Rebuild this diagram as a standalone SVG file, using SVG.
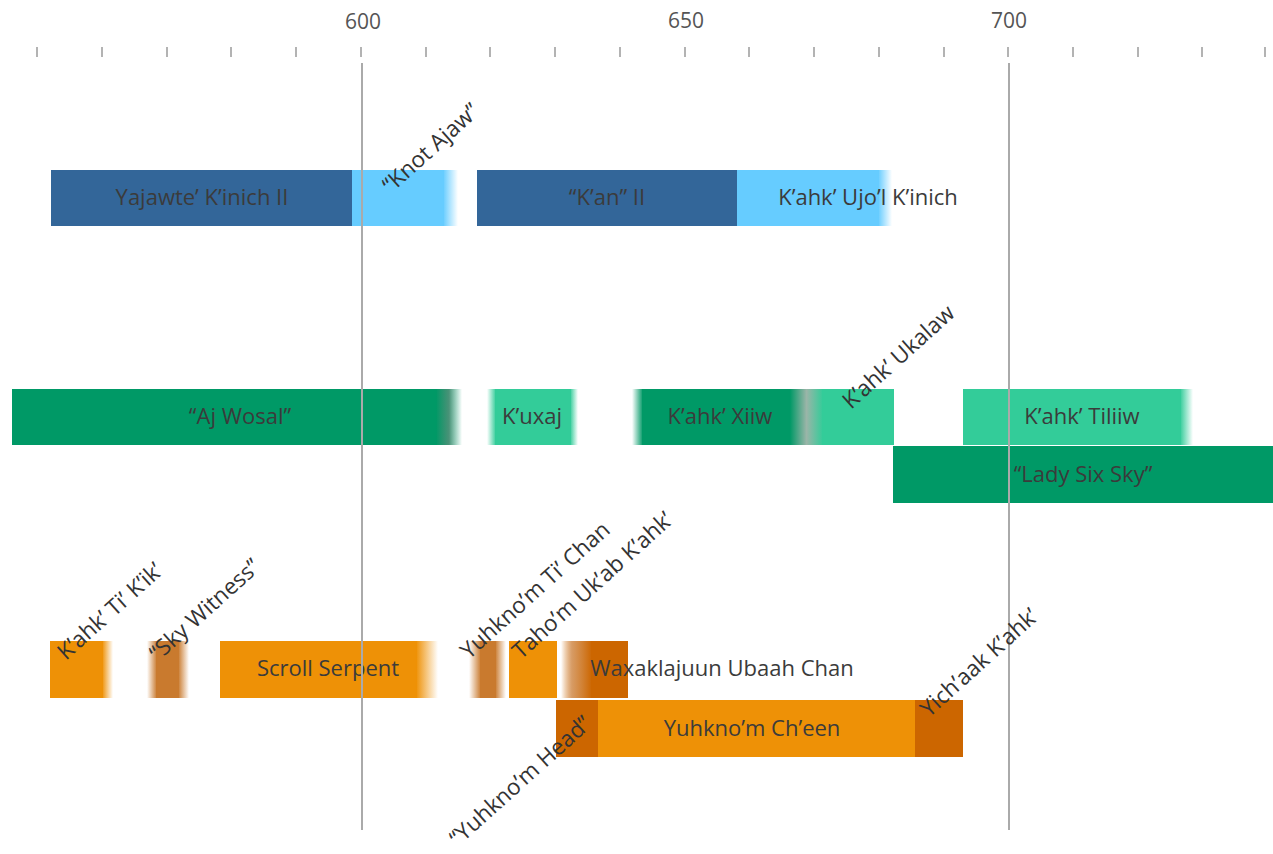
<svg xmlns="http://www.w3.org/2000/svg" width="1273" height="854" viewBox="0 0 1273 854">
<style>
.lbl{font-family:"Open Sans","Noto Sans","Liberation Sans",sans-serif;font-size:22px;fill:#3b3b3b}
.rot{font-size:22.5px;fill:#333}
.c{text-anchor:middle}
.ax{font-family:"Open Sans","Noto Sans","Liberation Sans",sans-serif;font-size:21px;fill:#555;text-anchor:middle}
.tick{stroke:#a0a0a0;stroke-width:1.6}
.vline{stroke:#aaaaaa;stroke-width:2}
.db{fill:#336699}.lb{fill:#66ccff}.dg{fill:#009966}.lg{fill:#33cc99}
.or{fill:#ee9106}.br{fill:#c97a2e}.do{fill:#cc6600}
</style>
<defs>
<linearGradient id="lbR"><stop offset="0" stop-color="#66ccff"/><stop offset="1" stop-color="#66ccff" stop-opacity="0"/></linearGradient>
<linearGradient id="dgR"><stop offset="0" stop-color="#009966"/><stop offset="0.5" stop-color="#2a7f60" stop-opacity="0.85"/><stop offset="1" stop-color="#009966" stop-opacity="0"/></linearGradient>
<linearGradient id="dgL"><stop offset="0" stop-color="#009966" stop-opacity="0"/><stop offset="1" stop-color="#009966"/></linearGradient>
<linearGradient id="lgR"><stop offset="0" stop-color="#33cc99"/><stop offset="1" stop-color="#33cc99" stop-opacity="0"/></linearGradient>
<linearGradient id="lgL"><stop offset="0" stop-color="#33cc99" stop-opacity="0"/><stop offset="1" stop-color="#33cc99"/></linearGradient>
<linearGradient id="dg2lg"><stop offset="0" stop-color="#009966"/><stop offset="0.5" stop-color="#9ab5a8"/><stop offset="1" stop-color="#33cc99"/></linearGradient>
<linearGradient id="orR"><stop offset="0" stop-color="#ee9106"/><stop offset="1" stop-color="#ee9106" stop-opacity="0"/></linearGradient>
<linearGradient id="brR"><stop offset="0" stop-color="#c97a2e"/><stop offset="1" stop-color="#c97a2e" stop-opacity="0"/></linearGradient>
<linearGradient id="brL"><stop offset="0" stop-color="#c97a2e" stop-opacity="0"/><stop offset="1" stop-color="#c97a2e"/></linearGradient>
<linearGradient id="doL"><stop offset="0" stop-color="#cc6600" stop-opacity="0"/><stop offset="0.35" stop-color="#d08a4a" stop-opacity="0.85"/><stop offset="1" stop-color="#cc6600"/></linearGradient>
</defs>
<rect width="1273" height="854" fill="#ffffff"/>

<g id="axis">
<text class="ax" x="363" y="29">600</text>
<text class="ax" x="686" y="28">650</text>
<text class="ax" x="1009" y="28">700</text>
<g class="tick">
<line x1="37" y1="47" x2="37" y2="57"/><line x1="102" y1="47" x2="102" y2="57"/><line x1="167" y1="47" x2="167" y2="57"/><line x1="231" y1="47" x2="231" y2="57"/><line x1="296" y1="47" x2="296" y2="57"/><line x1="361" y1="47" x2="361" y2="57"/><line x1="426" y1="47" x2="426" y2="57"/><line x1="490" y1="47" x2="490" y2="57"/><line x1="555" y1="47" x2="555" y2="57"/><line x1="620" y1="47" x2="620" y2="57"/><line x1="685" y1="47" x2="685" y2="57"/><line x1="749" y1="47" x2="749" y2="57"/><line x1="814" y1="47" x2="814" y2="57"/><line x1="879" y1="47" x2="879" y2="57"/><line x1="944" y1="47" x2="944" y2="57"/><line x1="1008" y1="47" x2="1008" y2="57"/><line x1="1073" y1="47" x2="1073" y2="57"/><line x1="1138" y1="47" x2="1138" y2="57"/><line x1="1202" y1="47" x2="1202" y2="57"/><line x1="1265" y1="47" x2="1265" y2="57"/>
</g>
</g>

<g id="yajawte">
<rect class="db" x="51" y="170" width="302" height="56"/>
<text class="lbl c" x="202" y="205">Yajawte’ K’inich II</text>
</g>
<g id="knot-ajaw">
<rect class="lb" x="352" y="170" width="92" height="56"/>
<rect x="443" y="170" width="15" height="56" fill="url(#lbR)"/>
</g>
<g id="kan">
<rect class="db" x="477" y="170" width="261" height="56"/>
<text class="lbl c" x="607" y="205">“K’an” II</text>
</g>
<g id="ujol">
<rect class="lb" x="737" y="170" width="142" height="56"/>
<rect x="878" y="170" width="14" height="56" fill="url(#lbR)"/>
<text class="lbl c" x="868" y="205">K’ahk’ Ujo’l K’inich</text>
</g>

<g id="aj-wosal">
<rect class="dg" x="12" y="389" width="425" height="56"/>
<rect x="436" y="389" width="26" height="56" fill="url(#dgR)"/>
<text class="lbl c" x="240" y="424">“Aj Wosal”</text>
</g>
<g id="kuxaj">
<rect x="487" y="389" width="9" height="56" fill="url(#lgL)"/>
<rect class="lg" x="495" y="389" width="76" height="56"/>
<rect x="570" y="389" width="8" height="56" fill="url(#lgR)"/>
<text class="lbl c" x="532" y="424">K’uxaj</text>
</g>
<g id="kahk-xiiw">
<rect x="632" y="389" width="11" height="56" fill="url(#dgL)"/>
<rect class="dg" x="642" y="389" width="149" height="56"/>
<rect x="790" y="389" width="33" height="56" fill="url(#dg2lg)"/>
<text class="lbl c" x="720" y="424">K’ahk’ Xiiw</text>
</g>
<g id="kahk-ukalaw">
<rect class="lg" x="822" y="389" width="72" height="56"/>
</g>
<g id="tiliiw">
<rect class="lg" x="963" y="389" width="218" height="56"/>
<rect x="1180" y="389" width="13" height="56" fill="url(#lgR)"/>
<text class="lbl c" x="1082" y="424">K’ahk’ Tiliiw</text>
</g>
<g id="lady-six-sky">
<rect class="dg" x="893" y="446" width="380" height="57"/>
<text class="lbl c" x="1083" y="482">“Lady Six Sky”</text>
</g>

<g id="ti-kik">
<rect class="or" x="50" y="641" width="53" height="57"/>
<rect x="102" y="641" width="11" height="57" fill="url(#orR)"/>
</g>
<g id="sky-witness">
<rect x="147" y="641" width="10" height="57" fill="url(#brL)"/>
<rect class="br" x="156" y="641" width="23" height="57"/>
<rect x="178" y="641" width="11" height="57" fill="url(#brR)"/>
</g>
<g id="scroll-serpent">
<rect class="or" x="220" y="641" width="197" height="57"/>
<rect x="416" y="641" width="22" height="57" fill="url(#orR)"/>
<text class="lbl c" x="328" y="676">Scroll Serpent</text>
</g>
<g id="ti-chan">
<rect x="469" y="641" width="12" height="57" fill="url(#brL)"/>
<rect class="br" x="480" y="641" width="16" height="57"/>
<rect x="495" y="641" width="11" height="57" fill="url(#brR)"/>
</g>
<g id="tahom">
<rect class="or" x="509" y="641" width="48" height="57"/>
</g>
<g id="waxaklajuun">
<rect x="561" y="641" width="31" height="57" fill="url(#doL)"/>
<rect class="do" x="591" y="641" width="37" height="57"/>
<text class="lbl c" x="722" y="676">Waxaklajuun Ubaah Chan</text>
</g>
<g id="yuhknom-head">
<rect class="do" x="556" y="700" width="43" height="57"/>
</g>
<g id="yuhknom-cheen">
<rect class="or" x="598" y="700" width="317" height="57"/>
<text class="lbl c" x="752" y="736">Yuhkno’m Ch’een</text>
</g>
<g id="yichaak">
<rect class="do" x="915" y="700" width="48" height="57"/>
</g>

<g id="gridlines">
<line class="vline" x1="362" y1="63" x2="362" y2="830"/>
<line class="vline" x1="1009" y1="63" x2="1009" y2="830"/>
</g>

<g id="rotated-labels">
<text class="lbl rot" transform="translate(391,194) rotate(-42)">“Knot Ajaw”</text>
<text class="lbl rot" transform="translate(851,410) rotate(-42)">K’ahk’ Ukalaw</text>
<text class="lbl rot" transform="translate(66,661) rotate(-42)">K’ahk’ Ti’ K’ik’</text>
<text class="lbl rot" transform="translate(158,662) rotate(-42)">“Sky Witness”</text>
<text class="lbl rot" transform="translate(469,660) rotate(-42)">Yuhkno’m Ti’ Chan</text>
<text class="lbl rot" transform="translate(521,660) rotate(-42)">Taho’m Uk’ab K’ahk’</text>
<text class="lbl rot" transform="translate(458,847) rotate(-42)">“Yuhkno’m Head”</text>
<text class="lbl rot" transform="translate(929,718) rotate(-42)">Yich’aak K’ahk’</text>
</g>
</svg>
